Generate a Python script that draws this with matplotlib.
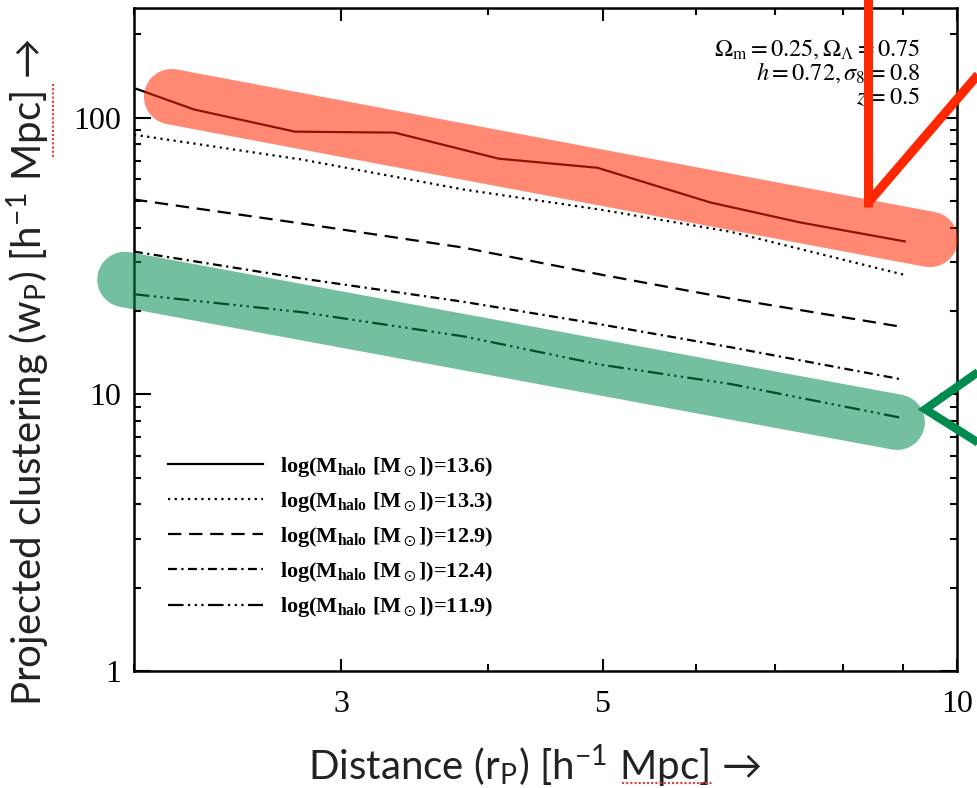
import numpy as np
import matplotlib
matplotlib.use('Agg')
import matplotlib.pyplot as plt
from matplotlib.lines import Line2D
from matplotlib.ticker import FixedLocator, NullFormatter, FixedFormatter

plt.rcParams['mathtext.fontset'] = 'stix'

# projected distance r_p [h^-1 Mpc] and w_p [h^-1 Mpc]
r_solid = [2.0, 2.25, 2.74, 3.33, 4.08, 4.95, 6.17, 7.36, 9.03]
wp_136 = [128, 107, 89, 88.3, 71.1, 65.9, 49.4, 41.8, 35.7]

r_nodes = [2.0, 2.78, 3.81, 4.98, 6.42, 9.0]
wp_133 = [86.8, 70.5, 55.0, 46.5, 38.7, 27.1]
wp_129 = [50.6, 41.4, 33.9, 27.1, 22.2, 17.5]
wp_124 = [32.8, 26.2, 21.6, 17.9, 14.8, 11.3]
wp_119 = [23.0, 19.8, 16.2, 12.8, 10.9, 8.2]

mass_labels = ['13.6', '13.3', '12.9', '12.4', '11.9']

# highlight overlays (data coordinates)
red_band = ([2.153, 9.487], [119, 36.3])
green_band = ([1.965, 8.896], [26.0, 7.93])
red_v1 = ([8.41, 8.41], [278, 47.7])
red_v2 = ([8.41, 10.66], [49.4, 160])
green_arrow = ([10.66, 9.396, 10.66], [12.88, 8.83, 6.30])

fig = plt.figure(figsize=(9.78, 7.88), dpi=100)
ax = fig.add_axes([0.1370, 0.1485, 0.8415, 0.8413])

styles = [
    '-',
    (0, (1, 2)),
    (0, (6, 3.5)),
    (0, (4, 2, 1, 2)),
    (0, (7, 2, 1, 2, 1, 2, 1, 2)),
]
series = [(r_solid, wp_136), (r_nodes, wp_133), (r_nodes, wp_129),
          (r_nodes, wp_124), (r_nodes, wp_119)]
for (x, y), ls, lab in zip(series, styles, mass_labels):
    ax.plot(x, y, color='black', lw=1.6, ls=ls,
            label=r'log(M$_\mathregular{halo}$ [M$_\odot$])=' + lab + ')')

ax.set_xscale('log')
ax.set_yscale('log')
ax.set_xlim(2.0, 10.0)
ax.set_ylim(1.0, 249)

ax.xaxis.set_major_locator(FixedLocator([3, 5, 10]))
ax.xaxis.set_major_formatter(FixedFormatter(['3', '5', '10']))
ax.xaxis.set_minor_locator(FixedLocator([2, 4, 6, 7, 8, 9]))
ax.xaxis.set_minor_formatter(NullFormatter())
ax.yaxis.set_major_locator(FixedLocator([1, 10, 100]))
ax.yaxis.set_major_formatter(FixedFormatter(['1', '10', '100']))
ax.yaxis.set_minor_locator(FixedLocator(
    [m * 10 ** e for e in range(0, 3) for m in range(2, 10)]))
ax.yaxis.set_minor_formatter(NullFormatter())

ax.tick_params(which='both', direction='in', top=True, right=True, width=1.5)
ax.tick_params(which='major', length=9)
ax.tick_params(which='minor', length=5)
ax.tick_params(axis='y', which='major', length=12, pad=9)
ax.tick_params(axis='x', pad=14)
for lbl in ax.get_xticklabels() + ax.get_yticklabels():
    lbl.set_family('Liberation Serif')
    lbl.set_fontsize(23)
for sp in ax.spines.values():
    sp.set_linewidth(1.8)

leg = ax.legend(loc='upper left', bbox_to_anchor=(0.041, 0.326), frameon=False,
                borderpad=0, borderaxespad=0, handlelength=4.3,
                handletextpad=0.75, labelspacing=0.5,
                prop={'family': 'Liberation Serif', 'size': 16, 'weight': 'bold'})

ax.text(0.955, 0.957,
        r'$\Omega_{\rm m}=0.25, \Omega_\Lambda=0.75$' + '\n' +
        r'$h=0.72, \sigma_8=0.8$' + '\n' + r'$z=0.5$',
        transform=ax.transAxes, ha='right', va='top', multialignment='right',
        fontsize=17.5, linespacing=1.0)

label_font = ['Lato', 'DejaVu Sans']
ax.set_xlabel(r'Distance (r$_{\mathregular{P}}$) [h$^{\mathregular{-1}}$ Mpc] →',
              family=label_font, fontsize=29, color='#222222')
ax.set_ylabel(r'Projected clustering (w$_{\mathregular{P}}$) [h$^{\mathregular{-1}}$ Mpc] →',
              family=label_font, fontsize=29, color='#222222')
ax.xaxis.set_label_coords(0.487, -0.108)
ax.yaxis.set_label_coords(-0.100, 0.451)

# highlight overlays
ax.plot(*red_band, color='#FF2800', alpha=0.55, lw=40, solid_capstyle='round',
        clip_on=False, zorder=5)
ax.plot(*green_band, color='#008C50', alpha=0.55, lw=40, solid_capstyle='round',
        clip_on=False, zorder=5)
ax.plot(*red_v1, color='#FF2800', lw=6.5, solid_capstyle='butt', clip_on=False, zorder=6)
ax.plot(*red_v2, color='#FF2800', lw=6.5, solid_capstyle='butt', clip_on=False, zorder=6)
ax.plot(*green_arrow, color='#008C50', lw=6, solid_joinstyle='miter',
        solid_capstyle='butt', clip_on=False, zorder=6)

# spell-check underlines under "Mpc" in the screenshot
W, H = 978, 788
fig.add_artist(Line2D([622 / W, 712 / W], [1 - 783 / H, 1 - 783 / H],
                      color='#D94040', lw=1.5, ls=(0, (1, 1))))
fig.add_artist(Line2D([53 / W, 53 / W], [1 - 84 / H, 1 - 158 / H],
                      color='#D94040', lw=1.5, ls=(0, (1, 1))))

fig.savefig('out.png', dpi=100)
